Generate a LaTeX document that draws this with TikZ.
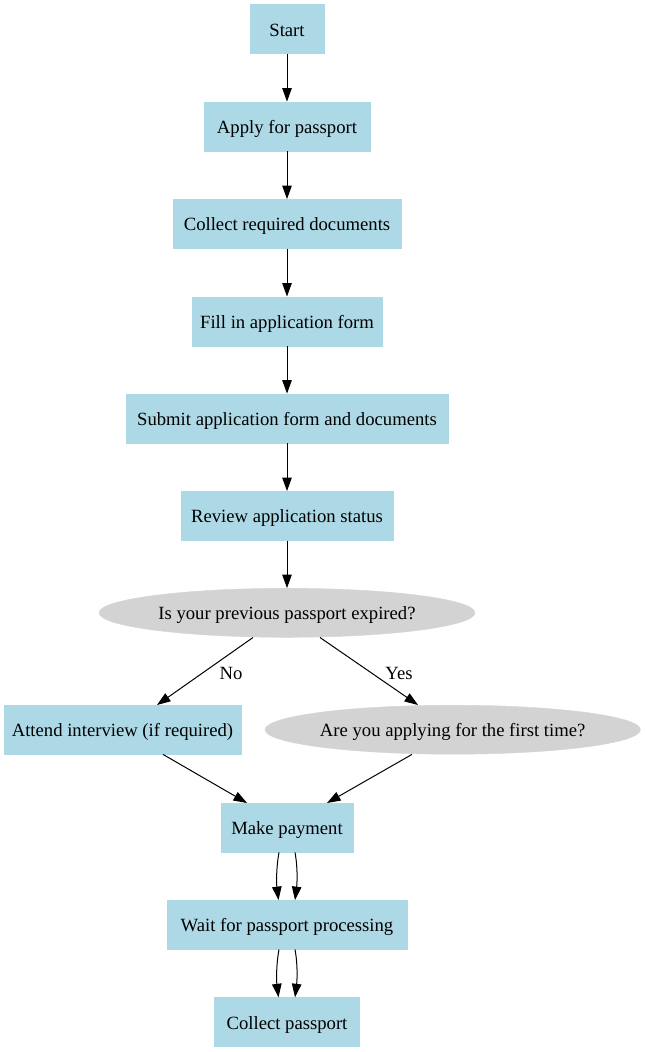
\documentclass[tikz,border=0pt]{standalone}
\usepackage{fontspec}
\setmainfont{Liberation Serif}
\usetikzlibrary{shapes.geometric,arrows.meta,calc}
\definecolor{lblue}{HTML}{ADD8E6}
\definecolor{lgray}{HTML}{D3D3D3}
\begin{document}
\begin{tikzpicture}[x=1pt,y=-1pt,
  every node/.style={font=\fontsize{18.67}{22}\selectfont},
  box/.style={rectangle,fill=lblue,draw=lblue,inner sep=0pt,minimum height=49pt,text height=18pt,text depth=4pt},
  oval/.style={ellipse,fill=lgray,draw=lgray,inner sep=0pt,minimum height=49pt,text height=18pt,text depth=4pt},
  arr/.style={line width=1pt,-{Triangle[length=13.5pt,width=9.5pt]}},
  lbl/.style={inner sep=0pt}]
\useasboundingbox (0,0) rectangle (645,1052);
\node[box,minimum width=73.5pt]  (start)  at (287,29)    {Start};
\node[box,minimum width=165.5pt] (apply)  at (287,126.3) {Apply for passport};
\node[box,minimum width=228.5pt] (docs)   at (287,223.8) {Collect required documents};
\node[box,minimum width=190.5pt] (fill)   at (287,321.2) {Fill in application form};
\node[box,minimum width=321.5pt] (submit) at (287,418.3) {Submit application form and documents};
\node[box,minimum width=211.5pt] (review) at (287,515.8) {Review application status};
\node[oval,minimum width=376pt]  (exp)    at (287,612.8) {Is your previous passport expired?};
\node[box,minimum width=237pt]   (att)    at (122.5,729.7) {Attend interview (if required)};
\node[oval,minimum width=375pt]  (first)  at (452.7,729.7) {Are you applying for the first time?};
\node[box,minimum width=131.5pt] (pay)    at (287,827.7) {Make payment};
\node[box,minimum width=240.5pt] (wait)   at (287,924.8) {Wait for passport processing};
\node[box,minimum width=145pt]   (coll)   at (287,1022)  {Collect passport};

\draw[arr] (start) -- (apply);
\draw[arr] (apply) -- (docs);
\draw[arr] (docs) -- (fill);
\draw[arr] (fill) -- (submit);
\draw[arr] (submit) -- (review);
\draw[arr] (review) -- (exp);
\draw[arr] ($(exp.south)+(-34,0)$) -- ($(att.north)+(34.5,0)$);
\draw[arr] ($(exp.south)+(33,0)$) -- ($(first.north)+(-34.7,0)$);
\node[lbl] (no)  at (231,673) {No};
\node[lbl] (yes) at (399,673) {Yes};
\draw[arr] ($(att.south)+(40.5,0)$) -- ($(pay.north)+(-40,0)$);
\draw[arr] ($(first.south)+(-40.7,0)$) -- ($(pay.north)+(40,0)$);
\draw[arr] ($(pay.south)+(-8,0)$) .. controls +(-3,16) and +(-2,-16) .. ($(wait.north)+(-8.5,0)$);
\draw[arr] ($(pay.south)+(8,0)$) .. controls +(3,16) and +(2,-16) .. ($(wait.north)+(8,0)$);
\draw[arr] ($(wait.south)+(-8,0)$) .. controls +(-3,16) and +(-2,-16) .. ($(coll.north)+(-8.5,0)$);
\draw[arr] ($(wait.south)+(8,0)$) .. controls +(3,16) and +(2,-16) .. ($(coll.north)+(8,0)$);
\end{tikzpicture}
\end{document}
